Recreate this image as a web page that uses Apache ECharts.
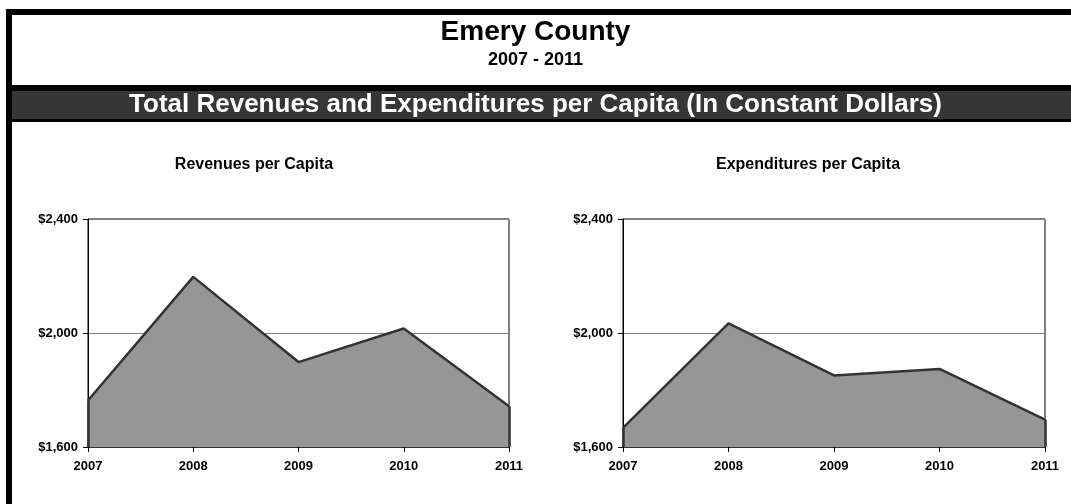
<!DOCTYPE html>
<html>
<head>
<meta charset="utf-8">
<script src="https://cdn.jsdelivr.net/npm/echarts@6/dist/echarts.min.js"></script>
<style>
html,body{margin:0;padding:0;background:#fff;}
#main{width:1071px;height:504px;}
</style>
</head>
<body>
<div id="main"></div>
<script>
const years = ['2007','2008','2009','2010','2011'];
const revenues = [1763, 2197, 1898, 2016, 1743];
const expenditures = [1667, 2034, 1851, 1874, 1696];
const yTicks = [1600, 2000, 2400];

const FONT = 'Liberation Sans, Arial, sans-serif';
const chart = echarts.init(document.getElementById('main'), null, {renderer:'canvas'});

function yAxis(idx){
  return {
    type:'value', gridIndex:idx, min:yTicks[0], max:yTicks[yTicks.length-1], interval:yTicks[1]-yTicks[0],
    axisLine:{show:true, lineStyle:{color:'#000', width:1}},
    axisTick:{show:true, inside:false, length:5, lineStyle:{color:'#000'}},
    axisLabel:{color:'#000', fontWeight:'bold', fontSize:13, fontFamily:FONT, margin:10,
      formatter:function(v){return '$' + v.toLocaleString('en-US');}},
    splitLine:{show:true, lineStyle:{color:'#808080', width:1}}
  };
}
function xAxis(idx){
  return {
    type:'category', gridIndex:idx, data:years, boundaryGap:false,
    axisLine:{show:true, lineStyle:{color:'#333', width:2}},
    axisTick:{show:true, inside:false, length:5, lineStyle:{color:'#000'}},
    axisLabel:{color:'#000', fontWeight:'bold', fontSize:13, fontFamily:FONT, margin:13},
    splitLine:{show:false}
  };
}
function areaSeries(idx, data){
  const n = data.length - 1;
  return {
    type:'line', xAxisIndex:idx, yAxisIndex:idx, data:data, symbol:'none',
    lineStyle:{color:'#333', width:2.5},
    areaStyle:{color:'#969696', opacity:1, origin:'start'},
    markLine:{
      silent:true, symbol:['none','none'], label:{show:false},
      lineStyle:{color:'#333', width:2.5, type:'solid'},
      data:[
        [{coord:[years[0], data[0]]}, {coord:[years[0], yTicks[0]]}],
        [{coord:[years[n], data[n]]}, {coord:[years[n], yTicks[0]]}]
      ]
    },
    z:2
  };
}

const option = {
  animation:false,
  backgroundColor:'#fff',
  graphic:[
    {type:'rect', shape:{x:6, y:9, width:1080, height:6}, style:{fill:'#000'}},
    {type:'rect', shape:{x:6, y:9, width:6, height:510}, style:{fill:'#000'}},
    {type:'rect', shape:{x:12, y:85, width:1070, height:6}, style:{fill:'#000'}},
    {type:'rect', shape:{x:12, y:91, width:1070, height:28}, style:{fill:'#363636'}},
    {type:'rect', shape:{x:12, y:119, width:1070, height:3}, style:{fill:'#000'}},
    {type:'text', left:'center', top:18, style:{text:'Emery County', font:'bold 28px '+FONT, fill:'#000'}},
    {type:'text', left:'center', top:51, style:{text:'2007 - 2011', font:'bold 18px '+FONT, fill:'#000'}},
    {type:'text', left:'center', top:92, style:{text:'Total Revenues and Expenditures per Capita (In Constant Dollars)', font:'bold 26px '+FONT, fill:'#fff'}},
    {type:'text', x:254, y:157, style:{text:'Revenues per Capita', font:'bold 16px '+FONT, fill:'#000', textAlign:'center'}},
    {type:'text', x:808, y:157, style:{text:'Expenditures per Capita', font:'bold 16px '+FONT, fill:'#000', textAlign:'center'}}
  ],
  grid:[
    {left:88, top:219, width:421, height:228, show:true, borderColor:'#000', borderWidth:1, backgroundColor:'transparent'},
    {left:623, top:219, width:422, height:228, show:true, borderColor:'#000', borderWidth:1, backgroundColor:'transparent'}
  ],
  xAxis:[xAxis(0), xAxis(1)],
  yAxis:[yAxis(0), yAxis(1)],
  series:[areaSeries(0, revenues), areaSeries(1, expenditures)]
};
chart.setOption(option);
</script>
</body>
</html>
